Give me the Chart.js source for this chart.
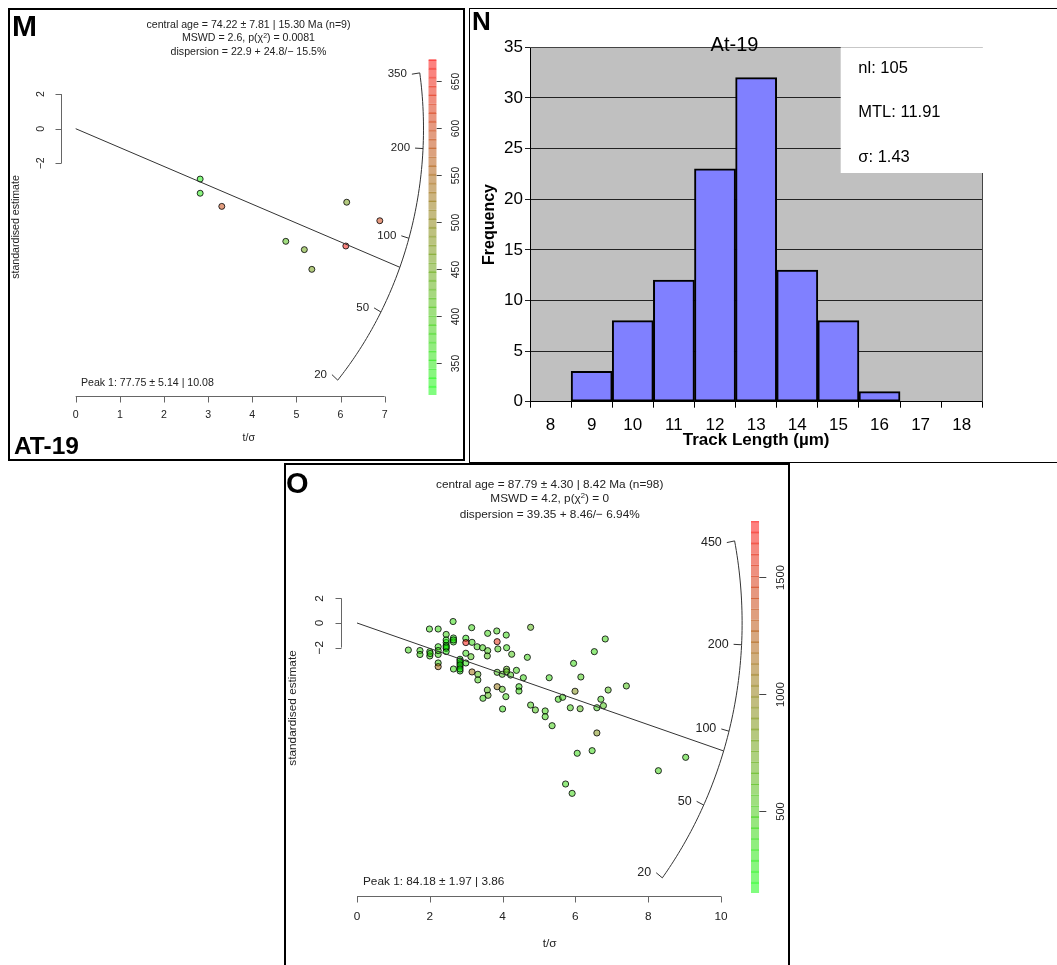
<!DOCTYPE html>
<html>
<head>
<meta charset="utf-8">
<script src="https://cdn.jsdelivr.net/npm/chart.js@4.4.0/dist/chart.umd.min.js"></script>
<style>
  body { margin: 0; background: #fff; width: 1057px; height: 965px; position: relative; overflow: hidden;
         font-family: "Liberation Sans", Arial, sans-serif; }
  .panel { position: absolute; box-sizing: border-box; border: 2px solid #000; }
  canvas { position: absolute; }
  .tag { position: absolute; font-weight: bold; color: #000; line-height: 1; }
  .hdr { position: absolute; text-align: center; color: #222; white-space: nowrap; transform: translateX(-50%); }
  .peak { position: absolute; color: #222; white-space: nowrap; }
  .sup { font-size: 65%; position: relative; top: -0.5em; }
</style>
</head>
<body>
<div class="panel" style="left:8px;top:8px;width:457px;height:453px"></div>
<div class="panel" style="left:469px;top:8px;width:600px;height:455px;border-width:1.5px"></div>
<div class="panel" style="left:284px;top:463px;width:506px;height:520px"></div>

<canvas id="radialM" width="457" height="453" style="left:8px;top:8px"></canvas>
<canvas id="barM" width="45" height="355" style="left:420px;top:50px"></canvas>
<canvas id="histN" width="587" height="454" style="left:470px;top:8px"></canvas>
<canvas id="radialO" width="506" height="502" style="left:284px;top:463px"></canvas>
<canvas id="barO" width="50" height="395" style="left:740px;top:510px"></canvas>

<div class="tag" style="left:12px;top:11px;font-size:30px">M</div>
<div class="tag" style="left:14px;top:434px;font-size:24.5px">AT-19</div>
<div class="tag" style="left:472px;top:8px;font-size:26px">N</div>
<div class="tag" style="left:286px;top:469px;font-size:29px">O</div>

<div class="hdr" style="left:248.5px;top:18px;font-size:10.6px;line-height:13px">
  central age = 74.22 ± 7.81 | 15.30 Ma (n=9)<br>
  MSWD = 2.6, p(χ<span class="sup">2</span>) = 0.0081<br>
  dispersion = 22.9 + 24.8/− 15.5%
</div>
<div class="peak" style="left:81px;top:376px;font-size:10.6px;line-height:13px">Peak 1: 77.75 ± 5.14 | 10.08</div>

<div class="hdr" style="left:549.7px;top:476.5px;font-size:11.8px;line-height:14.3px">
  central age = 87.79 ± 4.30 | 8.42 Ma (n=98)<br>
  MSWD = 4.2, p(χ<span class="sup">2</span>) = 0<br>
  dispersion = 39.35 + 8.46/− 6.94%
</div>
<div class="peak" style="left:363px;top:873.5px;font-size:11.8px;line-height:14px">Peak 1: 84.18 ± 1.97 | 3.86</div>

<script>
const FONT = '"Liberation Sans", Arial, sans-serif';
Chart.defaults.font.family = FONT;
Chart.defaults.color = '#000';

// M: AT-19 single grain ages (radial plot coordinates)
const mPrecision = [2.82, 2.82, 3.31, 6.14, 6.89, 4.76, 5.18, 6.12, 5.35];
const mEstimate = [-2.91, -3.73, -4.49, -4.25, -5.32, -6.51, -6.99, -6.78, -8.13];
const mColourVar = [335, 345, 590, 465, 600, 410, 450, 660, 460];
const mArcAges = [20, 50, 100, 200, 350];
const mPeakAge = 77.75;
const mRefAge = 231.4;
const mColourRange = [316, 673];
const mColourTicks = [350, 400, 450, 500, 550, 600, 650];
const mXTicks = [0, 1, 2, 3, 4, 5, 6, 7];
const yTicksRadial = [-2, 0, 2];

// N: confined track length histogram
const trackBins = ['8', '9', '10', '11', '12', '13', '14', '15', '16', '17', '18'];
const trackFreq = [0, 3, 8, 12, 23, 32, 13, 8, 1, 0, 0];
const trackStats = ['nl: 105', 'MTL: 11.91', 'σ: 1.43'];

// O: second sample, 98 grains
const oPrecision = [1.41, 1.73, 1.73, 1.99, 2.00, 2.00, 2.23, 2.23, 2.23, 2.23,
  2.23, 2.45, 2.45, 2.45, 2.45, 2.45, 2.64, 2.65, 2.65, 2.65,
  2.83, 2.83, 2.83, 2.83, 2.99, 2.99, 2.99, 2.99, 3.15, 3.16,
  3.13, 3.16, 3.32, 3.32, 3.30, 3.45, 3.59, 3.58, 3.59, 3.84,
  3.85, 3.87, 4.10, 4.11, 4.25, 4.77, 4.68, 3.85, 3.99, 4.11,
  4.11, 4.22, 4.38, 4.57, 3.58, 3.60, 3.46, 3.85, 3.99, 4.09,
  4.45, 4.45, 4.00, 4.77, 4.90, 5.17, 5.17, 5.28, 5.53, 5.65,
  5.36, 6.82, 6.52, 5.95, 6.15, 5.99, 6.90, 7.40, 6.70, 5.86,
  6.13, 6.59, 6.77, 6.59, 6.05, 6.46, 9.03, 8.28, 5.73, 5.91,
  2.83, 2.83, 2.83, 2.45, 2.45, 2.65, 2.23, 2.01];
const oEstimate = [-2.20, -2.24, -2.56, -0.49, -2.33, -2.68, -0.49, -1.93, -2.56, -3.25,
  -3.55, -0.93, -1.59, -1.83, -2.07, -2.32, 0.12, -1.22, -1.54, -3.74,
  -2.95, -3.25, -3.58, -3.90, -1.24, -1.59, -2.46, -3.25, -0.38, -1.57,
  -2.74, -3.98, -4.17, -4.63, -1.93, -2.01, -2.25, -2.68, -0.84, -0.65,
  -1.52, -2.11, -0.98, -2.01, -2.54, -0.35, -2.79, -4.01, -4.17, -3.76,
  -3.96, -4.23, -3.85, -4.45, -5.45, -5.88, -6.12, -5.18, -5.39, -5.99,
  -5.18, -5.53, -6.99, -6.67, -7.07, -7.15, -7.62, -4.45, -6.20, -6.04,
  -8.35, -1.30, -2.33, -3.28, -4.39, -5.55, -5.45, -5.12, -6.20, -6.89,
  -6.97, -6.89, -6.72, -8.94, -10.59, -10.38, -10.92, -12.01, -13.09, -13.85,
  -3.09, -3.41, -3.74, -1.38, -1.95, -1.38, -2.24, -2.48];
const oColourVar = [420, 380, 450, 400, 360, 430, 390, 350, 410, 440,
  1150, 430, 250, 260, 250, 270, 380, 260, 280, 400,
  220, 230, 220, 240, 300, 1690, 380, 330, 420, 400,
  520, 1100, 560, 480, 420, 450, 500, 560, 430, 460,
  1560, 470, 410, 390, 520, 620, 430, 500, 520, 620,
  580, 470, 430, 410, 580, 600, 420, 1050, 560, 450,
  380, 420, 380, 480, 520, 450, 430, 410, 400, 440,
  460, 430, 390, 410, 480, 900, 560, 530, 440, 470,
  600, 420, 520, 880, 390, 410, 430, 450, 410, 430,
  230, 220, 240, 260, 260, 270, 420, 400];
const oArcAges = [20, 50, 100, 200, 450];
const oPeakAge = 84.18;
const oRefAge = 236.5;
const oColourRange = [150, 1738];
const oColourTicks = [500, 1000, 1500];
const oXTicks = [0, 2, 4, 6, 8, 10];

// green -> red ramp used by both the points and the colour bars
function ramp(t, alpha) {
  t = Math.max(0, Math.min(1, t));
  return `rgba(${Math.round(255 * t)},${Math.round(255 * (1 - t))},0,${alpha})`;
}

function radialChart(id, cfg) {
  const z0 = Math.log(cfg.refAge);
  // point where the ray for a given age meets the radial scale
  const arcPoint = (age) => {
    const s = Math.log(age) - z0;
    const x = 1 / Math.sqrt(1 / (cfg.rx * cfg.rx) + (s * s) / (cfg.ry * cfg.ry));
    return { x: x, y: s * x };
  };
  const points = cfg.t.map((t, i) => ({ x: t, y: cfg.z[i] }));
  const fills = cfg.u.map(v => ramp((v - cfg.uRange[0]) / (cfg.uRange[1] - cfg.uRange[0]), 0.5));

  const axes = {
    id: 'radialAxes',
    afterDraw(chart) {
      const { ctx, chartArea: a, scales: { x, y } } = chart;
      ctx.save();
      ctx.lineWidth = 1;
      ctx.strokeStyle = '#666';
      ctx.fillStyle = '#222';
      ctx.font = cfg.fs + 'px ' + FONT;

      // t/sigma axis
      const yb = Math.round(a.bottom) + 0.5;
      ctx.beginPath();
      ctx.moveTo(x.getPixelForValue(cfg.xTicks[0]), yb);
      ctx.lineTo(x.getPixelForValue(cfg.xTicks[cfg.xTicks.length - 1]), yb);
      cfg.xTicks.forEach(v => {
        const px = Math.round(x.getPixelForValue(v)) + 0.5;
        ctx.moveTo(px, yb);
        ctx.lineTo(px, yb + 6);
      });
      ctx.stroke();
      ctx.textAlign = 'center';
      ctx.textBaseline = 'middle';
      cfg.xTicks.forEach(v => ctx.fillText(String(v), x.getPixelForValue(v), a.bottom + cfg.xLabGap));
      ctx.fillText('t/σ', x.getPixelForValue(cfg.xTitleAt), a.bottom + cfg.xTitleGap);

      // standardised estimate axis (only spans -2..2)
      const xa = Math.round(x.getPixelForValue(0) - cfg.yAxisGap) + 0.5;
      ctx.beginPath();
      ctx.moveTo(xa, y.getPixelForValue(yTicksRadial[0]));
      ctx.lineTo(xa, y.getPixelForValue(yTicksRadial[yTicksRadial.length - 1]));
      yTicksRadial.forEach(v => {
        const py = Math.round(y.getPixelForValue(v)) + 0.5;
        ctx.moveTo(xa, py);
        ctx.lineTo(xa - 6, py);
      });
      ctx.stroke();
      yTicksRadial.forEach(v => {
        ctx.save();
        ctx.translate(xa - cfg.yLabGap, y.getPixelForValue(v));
        ctx.rotate(-Math.PI / 2);
        ctx.fillText(v < 0 ? '−' + Math.abs(v) : String(v), 0, 0);
        ctx.restore();
      });
      ctx.save();
      ctx.translate(cfg.yTitleX, y.getPixelForValue(cfg.yTitleAt));
      ctx.rotate(-Math.PI / 2);
      ctx.fillText('standardised estimate', 0, 0);
      ctx.restore();

      // radial age scale
      const ox = x.getPixelForValue(0), oy = y.getPixelForValue(0);
      const ages = cfg.arcAges;
      const lo = Math.log(ages[0]), hi = Math.log(ages[ages.length - 1]);
      ctx.strokeStyle = '#333';
      ctx.beginPath();
      for (let k = 0; k <= 80; k++) {
        const p = arcPoint(Math.exp(lo + (hi - lo) * k / 80));
        const px = x.getPixelForValue(p.x), py = y.getPixelForValue(p.y);
        if (k === 0) ctx.moveTo(px, py); else ctx.lineTo(px, py);
      }
      ctx.stroke();
      ctx.font = cfg.arcFs + 'px ' + FONT;
      ctx.textAlign = 'right';
      ages.forEach(age => {
        const p = arcPoint(age);
        const px = x.getPixelForValue(p.x), py = y.getPixelForValue(p.y);
        const d = Math.hypot(ox - px, oy - py);
        const qx = px + (ox - px) / d * 8, qy = py + (oy - py) / d * 8;
        ctx.beginPath();
        ctx.moveTo(px, py);
        ctx.lineTo(qx, qy);
        ctx.stroke();
        ctx.fillText(String(age), qx - 5, qy);
      });
      ctx.restore();
    }
  };

  return new Chart(document.getElementById(id), {
    type: 'scatter',
    data: {
      datasets: [
        {
          type: 'line',
          data: [{ x: 0, y: 0 }, arcPoint(cfg.peakAge)],
          borderColor: '#333',
          borderWidth: 1,
          pointRadius: 0,
          clip: false
        },
        {
          data: points,
          pointRadius: cfg.r,
          pointBackgroundColor: fills,
          pointBorderColor: 'rgba(0,0,0,0.8)',
          pointBorderWidth: 1,
          clip: false
        }
      ]
    },
    options: {
      responsive: false,
      animation: false,
      events: [],
      layout: { padding: cfg.pad },
      plugins: { legend: { display: false }, tooltip: { enabled: false } },
      scales: {
        x: { type: 'linear', display: false, min: cfg.xr[0], max: cfg.xr[1] },
        y: { type: 'linear', display: false, min: cfg.yr[0], max: cfg.yr[1] }
      }
    },
    plugins: [axes]
  });
}

function colourBar(id, cfg) {
  const [lo, hi] = cfg.range;
  const datasets = [];
  for (let i = 0; i < cfg.bands; i++) {
    const a = lo + (hi - lo) * i / cfg.bands;
    const b = lo + (hi - lo) * (i + 1) / cfg.bands;
    const t = (i + 0.5) / cfg.bands;
    datasets.push({
      data: [[a, b]],
      backgroundColor: ramp(t, 0.5),
      borderColor: ramp(t, 0.6),
      borderWidth: { top: 1, bottom: 0, left: 0, right: 0 },
      borderSkipped: false,
      grouped: false,
      barPercentage: 1,
      categoryPercentage: 1
    });
  }
  const ticks = {
    id: 'barTicks',
    afterDraw(chart) {
      const { ctx, chartArea: a, scales: { y } } = chart;
      ctx.save();
      ctx.strokeStyle = '#444';
      ctx.fillStyle = '#222';
      ctx.lineWidth = 1;
      ctx.font = cfg.fs + 'px ' + FONT;
      ctx.textAlign = 'center';
      ctx.textBaseline = 'middle';
      cfg.ticks.forEach(v => {
        const py = Math.round(y.getPixelForValue(v)) + 0.5;
        ctx.beginPath();
        ctx.moveTo(a.right, py);
        ctx.lineTo(a.right + cfg.tickLen, py);
        ctx.stroke();
        ctx.save();
        ctx.translate(a.right + cfg.labGap, py);
        ctx.rotate(-Math.PI / 2);
        ctx.fillText(String(v), 0, 0);
        ctx.restore();
      });
      ctx.restore();
    }
  };
  return new Chart(document.getElementById(id), {
    type: 'bar',
    data: { labels: [''], datasets: datasets },
    options: {
      responsive: false,
      animation: false,
      events: [],
      layout: { padding: cfg.pad },
      plugins: { legend: { display: false }, tooltip: { enabled: false } },
      scales: {
        x: { display: false },
        y: { display: false, min: lo, max: hi }
      }
    },
    plugins: [ticks]
  });
}

radialChart('radialM', {
  t: mPrecision, z: mEstimate, u: mColourVar, uRange: mColourRange,
  arcAges: mArcAges, peakAge: mPeakAge, refAge: mRefAge, rx: 7.88, ry: 22.1,
  xTicks: mXTicks, xr: [-1, 8], yr: [-15.45, 4],
  pad: { left: 23.56, right: 36.2, top: 51.5, bottom: 65 },
  r: 3, fs: 10.6, arcFs: 11.5,
  xLabGap: 19, xTitleGap: 42, xTitleAt: 3.92,
  yAxisGap: 14.4, yLabGap: 20, yTitleX: 8, yTitleAt: -5.68
});
colourBar('barM', {
  range: mColourRange, bands: 38, ticks: mColourTicks,
  pad: { left: 8.3, right: 28.3, top: 9.3, bottom: 10 },
  fs: 10.4, tickLen: 5, labGap: 19.3
});

radialChart('radialO', {
  t: oPrecision, z: oEstimate, u: oColourVar, uRange: oColourRange,
  arcAges: oArcAges, peakAge: oPeakAge, refAge: oRefAge, rx: 10.58, ry: 34.0,
  xTicks: oXTicks, xr: [-1, 11], yr: [-22.17, 7.56],
  pad: { left: 36.6, right: 32.6, top: 67, bottom: 69.3 },
  r: 3.1, fs: 11.8, arcFs: 12.5,
  xLabGap: 21, xTitleGap: 48.3, xTitleAt: 5.29,
  yAxisGap: 15.7, yLabGap: 21.3, yTitleX: 8.3, yTitleAt: -6.91
});
colourBar('barO', {
  range: oColourRange, bands: 34, ticks: oColourTicks,
  pad: { left: 11, right: 30.7, top: 11, bottom: 12 },
  fs: 11.2, tickLen: 7, labGap: 21.4
});

// histogram frame, grey plot area, stats box and title
const histDecor = {
  id: 'histDecor',
  beforeDraw(chart) {
    const { ctx, chartArea: a } = chart;
    ctx.save();
    ctx.fillStyle = '#c0c0c0';
    ctx.fillRect(a.left, a.top, a.width, a.height);
    ctx.restore();
  },
  afterDraw(chart) {
    const { ctx, chartArea: a } = chart;
    ctx.save();
    ctx.strokeStyle = '#444';
    ctx.lineWidth = 1;
    ctx.beginPath();
    ctx.moveTo(a.left, Math.round(a.top) + 0.5);
    ctx.lineTo(Math.round(a.right) + 0.5, Math.round(a.top) + 0.5);
    ctx.lineTo(Math.round(a.right) + 0.5, a.bottom);
    ctx.stroke();

    ctx.fillStyle = '#fff';
    ctx.fillRect(370.7, a.top, a.right + 1 - 370.7, 165 - a.top);
    ctx.fillStyle = '#000';
    ctx.font = '16.5px ' + FONT;
    ctx.textAlign = 'left';
    ctx.textBaseline = 'alphabetic';
    const baselines = [65, 109.3, 154];
    trackStats.forEach((s, i) => ctx.fillText(s, 388.3, baselines[i]));

    ctx.font = '20px ' + FONT;
    ctx.textAlign = 'center';
    ctx.fillText('At-19', 264.5, 42.7);
    ctx.restore();
  }
};

new Chart(document.getElementById('histN'), {
  type: 'bar',
  data: {
    labels: trackBins,
    datasets: [{
      data: trackFreq,
      backgroundColor: '#8080ff',
      borderColor: '#000',
      borderWidth: 2,
      borderSkipped: false,
      barPercentage: 1,
      categoryPercentage: 1
    }]
  },
  options: {
    responsive: false,
    animation: false,
    events: [],
    layout: { padding: { left: 0, top: 39.3, right: 74.7, bottom: 0 } },
    plugins: { legend: { display: false }, tooltip: { enabled: false } },
    scales: {
      x: {
        grid: { drawOnChartArea: false, color: '#000', tickLength: 6, offset: true },
        border: { color: '#000' },
        ticks: { font: { size: 17 }, color: '#000', padding: 7, maxRotation: 0 },
        title: { display: true, text: 'Track Length (µm)', color: '#000',
                 font: { size: 17, weight: 'bold' }, padding: { top: 0, bottom: 11.5 } },
        afterFit: s => { s.height = 60.3; }
      },
      y: {
        min: 0,
        max: 35,
        ticks: { stepSize: 5, font: { size: 17 }, color: '#000', padding: 2 },
        grid: { color: '#222', tickLength: 5 },
        border: { color: '#000' },
        title: { display: true, text: 'Frequency', color: '#000',
                 font: { size: 16, weight: 'bold' }, padding: { top: 10.4, bottom: 0 } },
        afterFit: s => { s.width = 60; }
      }
    }
  },
  plugins: [histDecor]
});
</script>
</body>
</html>
